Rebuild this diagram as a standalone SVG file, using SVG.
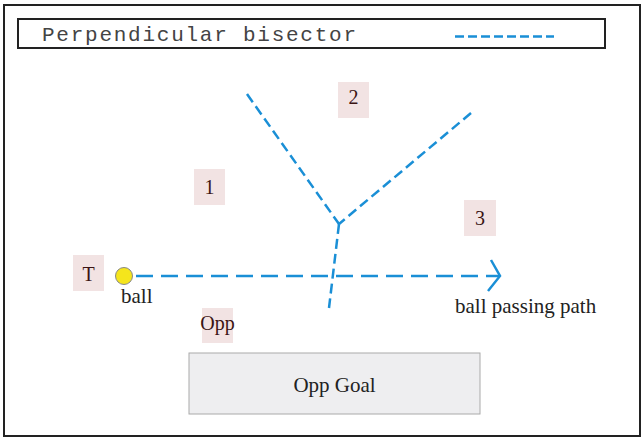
<svg xmlns="http://www.w3.org/2000/svg" width="642" height="439" viewBox="0 0 642 439">
<style>
.lbl{fill:#f2e3e3}
.lt{font-family:"Liberation Serif","Times New Roman",serif;font-size:20px;fill:#3a1414;text-anchor:middle}
.tx{font-family:"Liberation Serif","Times New Roman",serif;font-size:21px;fill:#222}
.bis{fill:none;stroke:#1a8fd6;stroke-width:2.5;stroke-dasharray:10 5}
.path{fill:none;stroke:#1a8fd6;stroke-width:2.5;stroke-dasharray:17 8}
</style>
<rect x="0" y="0" width="642" height="439" fill="#ffffff"/>
<rect x="4" y="5" width="636" height="431" fill="none" stroke="#222" stroke-width="2"/>
<g id="legend">
<rect x="18" y="19" width="587" height="29" fill="none" stroke="#222" stroke-width="2"/>
<text x="42" y="41" font-family="'Liberation Mono','Courier New',monospace" font-size="21" fill="#444" textLength="314" lengthAdjust="spacing">Perpendicular bisector</text>
<line x1="455" y1="36.5" x2="554" y2="36.5" stroke="#1a8fd6" stroke-width="2.5" stroke-dasharray="9 4"/>
</g>
<g id="connectors">
<path class="bis" d="M247,94 L339,224"/>
<path class="bis" d="M471,113 L339,224"/>
<path class="bis" d="M339,224 L329,308"/>
<path class="path" d="M136,276 L499,276"/>
<path d="M491,260 L500,276 L488,291" fill="none" stroke="#1a8fd6" stroke-width="2.5"/>
</g>
<g id="label-T">
<rect class="lbl" x="73" y="255" width="31" height="36"/>
<text class="lt" x="88.5" y="281">T</text>
</g>
<g id="label-1">
<rect class="lbl" x="194" y="169" width="31" height="36"/>
<text class="lt" x="209.5" y="194">1</text>
</g>
<g id="label-2">
<rect class="lbl" x="338" y="82" width="31" height="36"/>
<text class="lt" x="353.5" y="104">2</text>
</g>
<g id="label-3">
<rect class="lbl" x="464" y="200" width="32" height="36"/>
<text class="lt" x="480" y="225">3</text>
</g>
<g id="label-opp">
<rect class="lbl" x="202" y="308" width="31" height="35"/>
<text class="lt" x="217.5" y="330" font-size="18">Opp</text>
</g>
<g id="ball">
<circle cx="124" cy="276" r="8.5" fill="#f5e51c" stroke="#888" stroke-width="1"/>
<text class="tx" x="121" y="303">ball</text>
</g>
<g id="path-label">
<text class="tx" x="455" y="313">ball passing path</text>
</g>
<g id="goal">
<rect x="189" y="353" width="291" height="61" fill="#eeeef0" stroke="#aaa" stroke-width="1"/>
<text class="tx" x="334.5" y="392" text-anchor="middle">Opp Goal</text>
</g>
</svg>
